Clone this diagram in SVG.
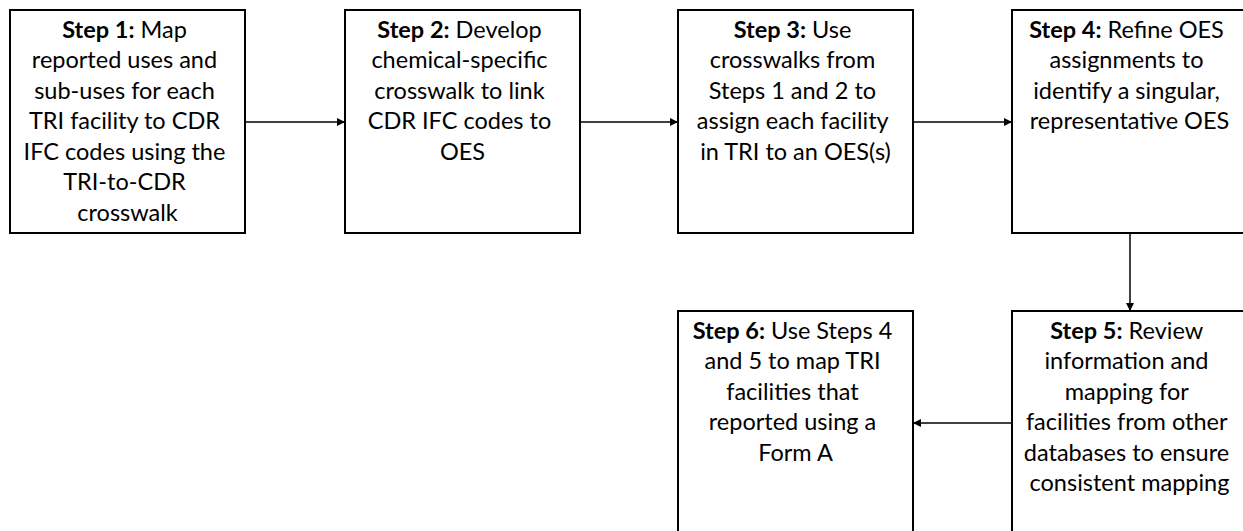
<svg xmlns="http://www.w3.org/2000/svg" width="1243" height="531" viewBox="0 0 1243 531">
  <defs>
    <marker id="arrow" viewBox="0 0 10 10" refX="10" refY="5" markerWidth="8" markerHeight="8" markerUnits="userSpaceOnUse" orient="auto">
      <path d="M0,0 L10,5 L0,10 z" fill="#000"/>
    </marker>
    <style>
      .box { fill: #fff; stroke: #000; stroke-width: 2; }
      .label { font-family: Lato, "Liberation Sans", sans-serif; font-size: 23.5px; fill: #000; text-anchor: middle; }
      .label .b { font-weight: bold; }
      .conn { stroke: #000; stroke-width: 1.5; fill: none; marker-end: url(#arrow); }
    </style>
  </defs>
  <rect width="1243" height="531" fill="#fff"/>

  <g id="connectors">
    <line class="conn" x1="245" y1="122" x2="345" y2="122"/>
    <line class="conn" x1="580" y1="122" x2="678" y2="122"/>
    <line class="conn" x1="913" y1="122" x2="1012" y2="122"/>
    <line class="conn" x1="1130" y1="233" x2="1130" y2="311"/>
    <line class="conn" x1="1012" y1="423" x2="913" y2="423"/>
  </g>

  <g id="step1">
    <rect class="box" x="10" y="10" width="235" height="223"/>
    <text class="label">
      <tspan x="127.5" y="37.5"><tspan class="b">Step 1:</tspan> Map</tspan>
      <tspan x="127.5" y="68">reported uses and</tspan>
      <tspan x="127.5" y="98.5">sub-uses for each</tspan>
      <tspan x="127.5" y="129">TRI facility to CDR</tspan>
      <tspan x="127.5" y="159.5">IFC codes using the</tspan>
      <tspan x="127.5" y="190">TRI-to-CDR</tspan>
      <tspan x="127.5" y="220.5">crosswalk</tspan>
    </text>
  </g>

  <g id="step2">
    <rect class="box" x="345" y="10" width="235" height="223"/>
    <text class="label">
      <tspan x="462.5" y="37.5"><tspan class="b">Step 2:</tspan> Develop</tspan>
      <tspan x="462.5" y="68">chemical-specific</tspan>
      <tspan x="462.5" y="98.5">crosswalk to link</tspan>
      <tspan x="462.5" y="129">CDR IFC codes to</tspan>
      <tspan x="462.5" y="159.5">OES</tspan>
    </text>
  </g>

  <g id="step3">
    <rect class="box" x="678" y="10" width="235" height="223"/>
    <text class="label">
      <tspan x="795.5" y="37.5"><tspan class="b">Step 3:</tspan> Use</tspan>
      <tspan x="795.5" y="68">crosswalks from</tspan>
      <tspan x="795.5" y="98.5">Steps 1 and 2 to</tspan>
      <tspan x="795.5" y="129">assign each facility</tspan>
      <tspan x="795.5" y="159.5">in TRI to an OES(s)</tspan>
    </text>
  </g>

  <g id="step4">
    <rect class="box" x="1012" y="10" width="235" height="223"/>
    <text class="label">
      <tspan x="1129.5" y="37.5"><tspan class="b">Step 4:</tspan> Refine OES</tspan>
      <tspan x="1129.5" y="68">assignments to</tspan>
      <tspan x="1129.5" y="98.5">identify a singular,</tspan>
      <tspan x="1129.5" y="129">representative OES</tspan>
    </text>
  </g>

  <g id="step5">
    <rect class="box" x="1012" y="311" width="235" height="230"/>
    <text class="label">
      <tspan x="1129.5" y="338.5"><tspan class="b">Step 5:</tspan> Review</tspan>
      <tspan x="1129.5" y="369">information and</tspan>
      <tspan x="1129.5" y="399.5">mapping for</tspan>
      <tspan x="1129.5" y="430">facilities from other</tspan>
      <tspan x="1129.5" y="460.5">databases to ensure</tspan>
      <tspan x="1129.5" y="491">consistent mapping</tspan>
    </text>
  </g>

  <g id="step6">
    <rect class="box" x="678" y="311" width="235" height="230"/>
    <text class="label">
      <tspan x="795.5" y="338.5"><tspan class="b">Step 6:</tspan> Use Steps 4</tspan>
      <tspan x="795.5" y="369">and 5 to map TRI</tspan>
      <tspan x="795.5" y="399.5">facilities that</tspan>
      <tspan x="795.5" y="430">reported using a</tspan>
      <tspan x="795.5" y="460.5">Form A</tspan>
    </text>
  </g>
</svg>
